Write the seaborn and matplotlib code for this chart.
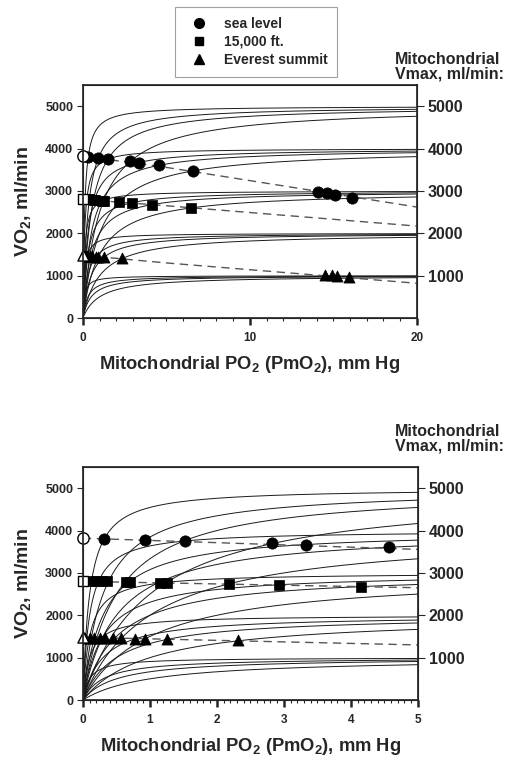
import matplotlib.pyplot as plt
import numpy as np
import pandas as pd
import seaborn as sns
from matplotlib.lines import Line2D
from matplotlib.ticker import MultipleLocator

# Mitochondrial O2 uptake curves: one per (Vmax, half-saturation PmO2) pair
vmax_levels = [1000, 2000, 3000, 4000, 5000]
p50_levels = [0.1, 0.3, 0.5, 1.0]

# O2 supply lines (dashed), read at PmO2 = 0, 5 and 20 mm Hg
line_pmo2 = [0, 5, 20]
sea_line_vo2 = [3820, 3555, 2620]
ft15k_line_vo2 = [2800, 2650, 2170]
everest_line_vo2 = [1480, 1300, 820]

# starting points (open markers at PmO2 = 0)
start_vo2 = [3820, 2800, 1480]

# intersections with the mitochondrial curves
sea_pmo2 = [0.32, 0.93, 1.53, 2.83, 3.33, 4.57, 6.6, 14.1, 14.6, 15.1, 16.1]
sea_vo2 = [3810, 3785, 3765, 3695, 3670, 3600, 3470, 2980, 2940, 2900, 2825]

ft15k_pmo2 = [0.12, 0.2, 0.28, 0.36, 0.64, 0.71, 1.15, 1.25, 2.18, 2.93, 4.15, 6.5]
ft15k_vo2 = [2805, 2805, 2805, 2800, 2790, 2790, 2770, 2770, 2735, 2705, 2670, 2590]

everest_pmo2 = [0.03, 0.1, 0.17, 0.25, 0.33, 0.45, 0.57, 0.78, 0.92, 1.26, 2.31,
                14.5, 14.9, 15.25, 15.95]
everest_vo2 = [1470, 1470, 1465, 1465, 1460, 1460, 1455, 1450, 1450, 1440, 1415,
               1010, 1005, 995, 970]

sns.set_theme(style="ticks")
plt.rcParams["font.family"] = ["Liberation Sans", "DejaVu Sans"]
plt.rcParams["font.weight"] = "bold"
plt.rcParams["axes.labelweight"] = "bold"
plt.rcParams["mathtext.fontset"] = "custom"
plt.rcParams["mathtext.bf"] = "Liberation Sans:bold"
plt.rcParams["mathtext.rm"] = "Liberation Sans:bold"
plt.rcParams["mathtext.default"] = "bf"

fig = plt.figure(figsize=(5.12, 7.7), dpi=100)
ax_top = fig.add_axes([0.162, 0.587, 0.652, 0.3026])
ax_bot = fig.add_axes([0.162, 0.0909, 0.654, 0.3026])


def curve_table(xmax):
    x = np.linspace(0, xmax, 1200)
    rows = []
    k = 0
    for vm in vmax_levels:
        for p50 in p50_levels:
            rows.append(pd.DataFrame({"pmo2": x, "vo2": vm * x / (p50 + x), "curve": k}))
            k += 1
    return pd.concat(rows, ignore_index=True)


def draw_panel(ax, xmax, major, minor):
    curves = curve_table(xmax)
    sns.lineplot(data=curves, x="pmo2", y="vo2", units="curve", estimator=None,
                 sort=False, color="#1a1a1a", lw=0.7, ax=ax, legend=False)

    for vals in (sea_line_vo2, ft15k_line_vo2, everest_line_vo2):
        sns.lineplot(x=line_pmo2, y=vals, ax=ax, color="#555555", lw=1.0,
                     linestyle=(0, (6, 4)), legend=False, sort=False)

    groups = [(sea_pmo2, sea_vo2, "o", 66), (ft15k_pmo2, ft15k_vo2, "s", 50),
              (everest_pmo2, everest_vo2, "^", 64)]
    for (px, py, mk, s), y0 in zip(groups, start_vo2):
        sns.scatterplot(x=px, y=py, marker=mk, s=s, color="black",
                        edgecolor="black", linewidth=0.5, ax=ax, zorder=4)
        sns.scatterplot(x=[0], y=[y0], marker=mk, s=s, color="white",
                        edgecolor="black", linewidth=1.0, ax=ax, zorder=5,
                        clip_on=False)

    ax.set_xlim(0, xmax)
    ax.set_ylim(0, 5500)
    ax.xaxis.set_major_locator(MultipleLocator(major))
    ax.xaxis.set_minor_locator(MultipleLocator(minor))
    ax.set_yticks([0, 1000, 2000, 3000, 4000, 5000])
    for sp in ax.spines.values():
        sp.set_visible(True)
        sp.set_linewidth(0.8)
        sp.set_color("#222222")
    ax.tick_params(axis="y", which="major", direction="out", length=4, width=0.8,
                   labelsize=9, pad=3)
    ax.tick_params(axis="x", which="major", direction="out", length=5, width=1.8,
                   labelsize=8.5, pad=5)
    ax.tick_params(axis="x", which="minor", direction="out", length=2.5, width=0.8)
    ax.set_xlabel("Mitochondrial PO$_2$ (PmO$_2$), mm Hg", fontsize=13.2,
                  fontweight="bold", labelpad=7)
    ax.set_ylabel("VO$_2$, ml/min", fontsize=14, fontweight="bold", labelpad=9)

    ax2 = ax.twinx()
    ax2.set_ylim(0, 5500)
    ax2.set_yticks([1000, 2000, 3000, 4000, 5000])
    ax2.tick_params(axis="y", direction="out", length=5, width=0.8,
                    labelsize=11.5, pad=3)
    for lab in ax2.get_yticklabels():
        lab.set_fontweight("bold")
    for lab in ax.get_xticklabels() + ax.get_yticklabels():
        lab.set_fontweight("bold")
    ax2.grid(False)


draw_panel(ax_top, 20, 10, 1)
draw_panel(ax_bot, 5, 1, 0.1)

fig.text(0.771, 0.894, "Mitochondrial\nVmax, ml/min:", fontsize=11.5,
         fontweight="bold", ha="left", va="bottom", linespacing=0.95)
fig.text(0.771, 0.411, "Mitochondrial\nVmax, ml/min:", fontsize=11.5,
         fontweight="bold", ha="left", va="bottom", linespacing=0.95)

handles = [
    Line2D([], [], marker="o", color="black", ls="none", ms=7),
    Line2D([], [], marker="s", color="black", ls="none", ms=6),
    Line2D([], [], marker="^", color="black", ls="none", ms=7),
]
leg = fig.legend(handles, ["sea level", "15,000 ft.", "Everest summit"],
                 loc="upper center", bbox_to_anchor=(0.5, 0.991), fontsize=10,
                 frameon=True, fancybox=False, edgecolor="#888888",
                 borderpad=0.7, labelspacing=0.3, handlelength=2.0,
                 handletextpad=0.8, borderaxespad=0)
leg.get_frame().set_linewidth(0.8)
for t in leg.get_texts():
    t.set_fontweight("bold")

fig.savefig("out.png", dpi=100)
